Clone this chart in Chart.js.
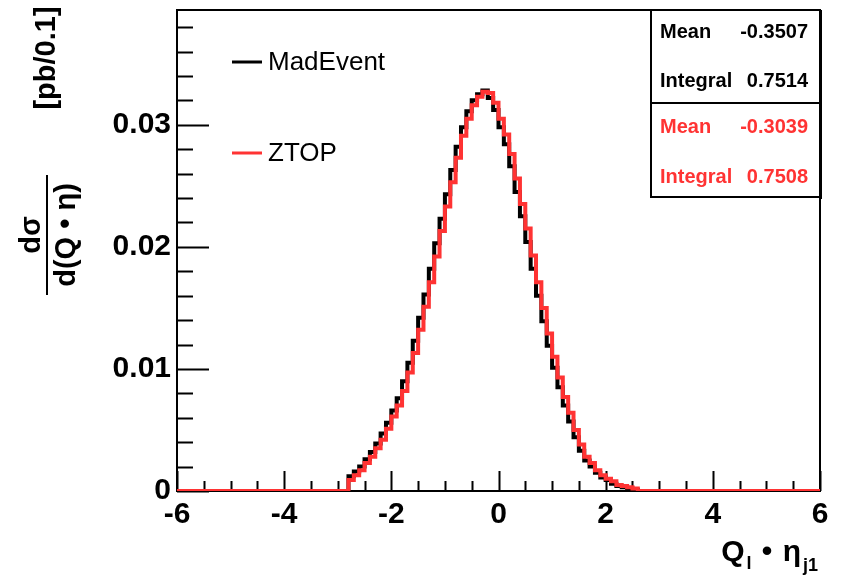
<!DOCTYPE html>
<html>
<head>
<meta charset="utf-8">
<script src="https://cdn.jsdelivr.net/npm/chart.js@4.4.0/dist/chart.umd.min.js"></script>
<style>
  html, body { margin: 0; padding: 0; background: #fff; }
  #wrap { width: 841px; height: 575px; }
</style>
</head>
<body>
<div id="wrap"><canvas id="c" width="841" height="575"></canvas></div>
<script>
// histogram binning: first filled bin starts at -2.8, 0.1 wide
const binLow = -2.8;
const binWidth = 0.1;

// bin contents (pb per 0.1)
const madEvent = [
  0.0012, 0.0016, 0.0020, 0.0026, 0.0032, 0.0039, 0.0047, 0.0056, 0.0066, 0.0076,
  0.0090, 0.0105, 0.0123, 0.0142, 0.0161, 0.0182, 0.0203, 0.0223, 0.0243, 0.0263,
  0.0282, 0.0298, 0.0311, 0.0320, 0.0325, 0.0328, 0.0322, 0.0312, 0.0298, 0.0284,
  0.0266, 0.0245, 0.0225, 0.0204, 0.0182, 0.0160, 0.0139, 0.0119, 0.0101, 0.0085,
  0.0070, 0.0057, 0.0044, 0.0033, 0.0025, 0.0020, 0.0015, 0.0011, 0.0009, 0.0006,
  0.0004, 0.0003, 0.0002, 0.0001
];
const ztop = [
  0.0009, 0.0013, 0.0017, 0.0023, 0.0028, 0.0035, 0.0042, 0.0051, 0.0061, 0.0070,
  0.0082, 0.0097, 0.0113, 0.0132, 0.0151, 0.0171, 0.0192, 0.0213, 0.0233, 0.0253,
  0.0273, 0.0291, 0.0305, 0.0316, 0.0323, 0.0327, 0.0326, 0.0318, 0.0305, 0.0292,
  0.0276, 0.0256, 0.0235, 0.0215, 0.0193, 0.0171, 0.0150, 0.0129, 0.0110, 0.0093,
  0.0077, 0.0064, 0.0050, 0.0038, 0.0028, 0.0023, 0.0017, 0.0013, 0.0010, 0.0008,
  0.0005, 0.0004, 0.0003, 0.0002
];

const xMin = -6, xMax = 6, xStep = 2, xMinor = 0.5;
const yMin = 0, yMax = 0.0394, yStep = 0.01, yMinor = 0.002;

const statsMad = [["Mean", "-0.3507"], ["Integral", "0.7514"]];
const statsZtop = [["Mean", "-0.3039"], ["Integral", "0.7508"]];

const RED = "#ff3333";
const FONT = "'Liberation Sans', Arial, Helvetica, sans-serif";

function toSteps(vals) {
  const pts = [{ x: xMin, y: 0 }];
  vals.forEach((v, i) => pts.push({ x: +(binLow + i * binWidth).toFixed(2), y: v }));
  pts.push({ x: +(binLow + vals.length * binWidth).toFixed(2), y: 0 });
  pts.push({ x: xMax, y: 0 });
  return pts;
}

const rootDecor = {
  id: "rootDecor",
  beforeDatasetsDraw(chart) {
    const { ctx, chartArea: a, scales } = chart;
    const xs = scales.x, ys = scales.y;
    ctx.save();
    ctx.strokeStyle = "#000";
    ctx.lineWidth = 2;
    ctx.beginPath();
    for (let v = xMin; v <= xMax + 1e-9; v += xMinor) {
      const px = Math.round(xs.getPixelForValue(v)) + 0.5;
      const major = Math.abs(v / xStep - Math.round(v / xStep)) < 1e-6;
      ctx.moveTo(px, a.bottom);
      ctx.lineTo(px, a.bottom - (major ? 20 : 10));
    }
    for (let v = yMin; v <= yMax + 1e-9; v += yMinor) {
      const py = Math.round(ys.getPixelForValue(v)) + 0.5;
      const major = Math.abs(v / yStep - Math.round(v / yStep)) < 1e-6;
      ctx.moveTo(a.left, py);
      ctx.lineTo(a.left + (major ? 32 : 16), py);
    }
    ctx.stroke();
    ctx.strokeRect(a.left, a.top, a.right - a.left, a.bottom - a.top);
    ctx.restore();
  },
  afterDraw(chart) {
    const { ctx, chartArea: a } = chart;
    ctx.save();

    // legend
    ctx.lineWidth = 3;
    ctx.font = "26px " + FONT;
    ctx.textBaseline = "middle";
    ctx.textAlign = "left";
    [["MadEvent", "#000", 62], ["ZTOP", RED, 153]].forEach(([lab, col, y]) => {
      ctx.strokeStyle = col;
      ctx.beginPath();
      ctx.moveTo(232, y);
      ctx.lineTo(262, y);
      ctx.stroke();
      ctx.fillStyle = "#000";
      ctx.fillText(lab, 268, y + 1);
    });

    // stats box
    const bx = 651, bw = a.right - bx, by = a.top, bh = 187;
    ctx.fillStyle = "#fff";
    ctx.fillRect(bx, by, bw, bh);
    ctx.strokeStyle = "#000";
    ctx.lineWidth = 2;
    ctx.strokeRect(bx, by, bw, bh);
    ctx.beginPath();
    ctx.moveTo(bx, by + 93);
    ctx.lineTo(bx + bw, by + 93);
    ctx.stroke();
    ctx.fillStyle = "#000";
    ctx.fillRect(a.right - 1, by, 3, bh + 2);
    ctx.font = "bold 20px " + FONT;
    const rows = [[statsMad, "#000", [32, 81]], [statsZtop, RED, [127, 177]]];
    rows.forEach(([st, col, ys]) => {
      ctx.fillStyle = col;
      st.forEach(([k, v], i) => {
        ctx.textAlign = "left";
        ctx.fillText(k, 660, ys[i]);
        ctx.textAlign = "right";
        ctx.fillText(v, 808, ys[i]);
      });
    });

    // y title
    ctx.fillStyle = "#000";
    ctx.strokeStyle = "#000";
    ctx.save();
    ctx.translate(47, 235);
    ctx.rotate(-Math.PI / 2);
    ctx.font = "bold 29px " + FONT;
    ctx.textAlign = "center";
    ctx.textBaseline = "alphabetic";
    ctx.fillText("d\u03c3", 0, -7);
    ctx.textBaseline = "top";
    ctx.fillText("d(Q \u2022 \u03b7)", 0, 5);
    ctx.lineWidth = 2;
    ctx.beginPath();
    ctx.moveTo(-60, 0);
    ctx.lineTo(60, 0);
    ctx.stroke();
    ctx.textBaseline = "middle";
    ctx.fillText("[pb/0.1]", 177, 0);
    ctx.restore();

    // x title: Q_l • η_j1, right aligned to frame
    const big = "bold 30px " + FONT, small = "bold 18px " + FONT;
    const parts = [["Q", big, 0], ["l", small, 8], [" \u2022 ", big, 0], ["\u03b7", big, 0], ["j1", small, 10]];
    let w = 0;
    parts.forEach(([t, f]) => { ctx.font = f; w += ctx.measureText(t).width + 2; });
    let x = a.right - w;
    ctx.textAlign = "left";
    ctx.textBaseline = "alphabetic";
    parts.forEach(([t, f, dy]) => {
      ctx.font = f;
      ctx.fillText(t, x, 561 + dy);
      x += ctx.measureText(t).width + 2;
    });
    ctx.restore();
  }
};

new Chart(document.getElementById("c"), {
  type: "line",
  data: {
    datasets: [
      { label: "ZTOP", data: toSteps(ztop), borderColor: RED, borderWidth: 4, order: 1 },
      { label: "MadEvent", data: toSteps(madEvent), borderColor: "#000", borderWidth: 4, order: 2 }
    ]
  },
  options: {
    responsive: false,
    animation: false,
    layout: { padding: { left: 0, right: 21, top: 10, bottom: 0 } },
    elements: {
      line: { stepped: "before", tension: 0, fill: false },
      point: { radius: 0, hoverRadius: 0 }
    },
    plugins: { legend: { display: false }, tooltip: { enabled: false } },
    scales: {
      x: {
        type: "linear",
        min: xMin, max: xMax,
        grid: { display: false, drawTicks: false },
        border: { display: false },
        ticks: {
          stepSize: xStep, maxRotation: 0, autoSkip: false,
          color: "#000", padding: 6,
          font: { family: FONT, weight: "bold", size: 30 },
          callback: (v) => String(v)
        },
        afterFit: (s) => { s.height = 84; s.paddingLeft = 0; s.paddingRight = 0; }
      },
      y: {
        min: yMin, max: yMax,
        grid: { display: false, drawTicks: false },
        border: { display: false },
        ticks: {
          stepSize: yStep, includeBounds: false,
          color: "#000", padding: 6,
          font: { family: FONT, weight: "bold", size: 30 },
          callback: (v) => (v === 0 ? "0" : v.toFixed(2))
        },
        afterFit: (s) => { s.width = 177; s.paddingTop = 0; s.paddingBottom = 0; }
      }
    }
  },
  plugins: [rootDecor]
});
</script>
</body>
</html>
